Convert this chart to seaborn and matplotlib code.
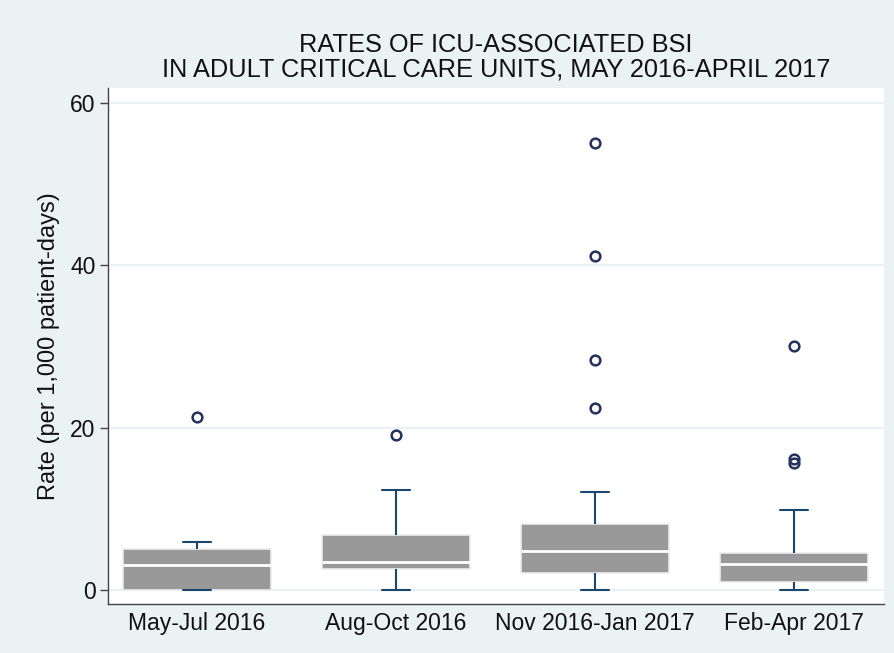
import matplotlib
matplotlib.use("Agg")
import matplotlib.pyplot as plt
import seaborn as sns
import pandas as pd

# Period labels
periods = ["May-Jul 2016", "Aug-Oct 2016", "Nov 2016-Jan 2017", "Feb-Apr 2017"]

# ICU rates per period (per 1,000 patient-days)
rates_may_jul_2016 = [0, 0, 0, 0, 0, 0.9, 1.6, 2.4, 3.1, 3.5, 3.9, 4.4, 5.0, 5.2, 5.6, 5.95, 21.3]
rates_aug_oct_2016 = [0, 1.2, 2.0, 2.4, 2.55, 2.8, 3.0, 3.2, 3.4, 4.1, 5.0, 6.0, 6.8, 8.3, 10.1, 12.3, 19.05]
rates_nov_2016_jan_2017 = [0, 0.8, 1.2, 1.5, 1.9, 2.1, 2.6, 3.2, 3.8, 4.3, 4.75, 5.4, 6.1, 6.9, 7.6, 8.1,
                           12.07, 22.4, 28.3, 41.1, 55.1]
rates_feb_apr_2017 = [0, 0.3, 0.5, 0.8, 0.95, 1.6, 2.2, 2.7, 3.15, 3.5, 3.9, 4.2, 4.55, 9.85, 15.7, 16.1, 30.1]

y_ticks = [0, 20, 40, 60]

series = [rates_may_jul_2016, rates_aug_oct_2016, rates_nov_2016_jan_2017, rates_feb_apr_2017]
df = pd.DataFrame({
    "period": [p for p, s in zip(periods, series) for _ in s],
    "rate": [v for s in series for v in s],
})

sns.set_theme(style="white")
plt.rcParams["font.family"] = ["Liberation Sans", "DejaVu Sans"]

bg = "#EAF2F3"
navy = "#1A476F"
fig = plt.figure(figsize=(8.94, 6.53), dpi=100, facecolor=bg)
ax = fig.add_axes([108 / 894, 49 / 653, 776 / 894, 516 / 653])
ax.set_facecolor("white")

sns.boxplot(
    data=df, x="period", y="rate", order=periods, ax=ax,
    width=0.744, whis=1.5, fill=True, color="#999999", linewidth=1.5,
    boxprops=dict(facecolor="#999999", edgecolor="#EDEDED", linewidth=1.2),
    medianprops=dict(color="white", linewidth=2),
    whiskerprops=dict(color=navy, linewidth=1.5),
    capprops=dict(color=navy, linewidth=1.5),
    flierprops=dict(marker="o", markerfacecolor="none", markeredgecolor="#23335E",
                    markersize=7, markeredgewidth=1.8),
)

# narrow the whisker caps
box_w = 0.744
cap_half = 0.07
for line in ax.lines:
    xd = list(line.get_xdata())
    yd = list(line.get_ydata())
    if len(xd) == 2 and yd[0] == yd[1] and abs(xd[1] - xd[0]) > 0 and abs(abs(xd[1] - xd[0]) - box_w) > 1e-6:
        c = (xd[0] + xd[1]) / 2
        line.set_xdata([c - cap_half, c + cap_half])

ax.set_xlim(-0.447, 3.452)
ax.set_ylim(-1.72, 61.85)
ax.set_yticks(y_ticks)
ax.set_yticklabels([str(t) for t in y_ticks])
ax.yaxis.grid(True, color=bg, linewidth=1.6)
ax.set_axisbelow(True)

for s in ["top", "right"]:
    ax.spines[s].set_visible(False)
for s in ["left", "bottom"]:
    ax.spines[s].set_color("#444444")
    ax.spines[s].set_linewidth(1.0)

ax.tick_params(axis="y", direction="out", length=6, width=1, color="#444444",
               labelsize=16.5, pad=3, left=True)
ax.tick_params(axis="x", length=0, labelsize=16.5, pad=6)
for t in ax.get_xticklabels() + ax.get_yticklabels():
    t.set_color("#111111")

ax.set_xlabel("")
ax.set_ylabel("Rate (per 1,000 patient-days)", fontsize=17, color="#111111", labelpad=7)

fig.text(496 / 894, 1 - 45 / 653, "RATES OF ICU-ASSOCIATED BSI", ha="center", va="center",
         fontsize=18.3, color="#111111")
fig.text(496 / 894, 1 - 70 / 653, "IN ADULT CRITICAL CARE UNITS, MAY 2016-APRIL 2017", ha="center",
         va="center", fontsize=18.3, color="#111111")

fig.savefig("out.png", dpi=100, facecolor=bg)
